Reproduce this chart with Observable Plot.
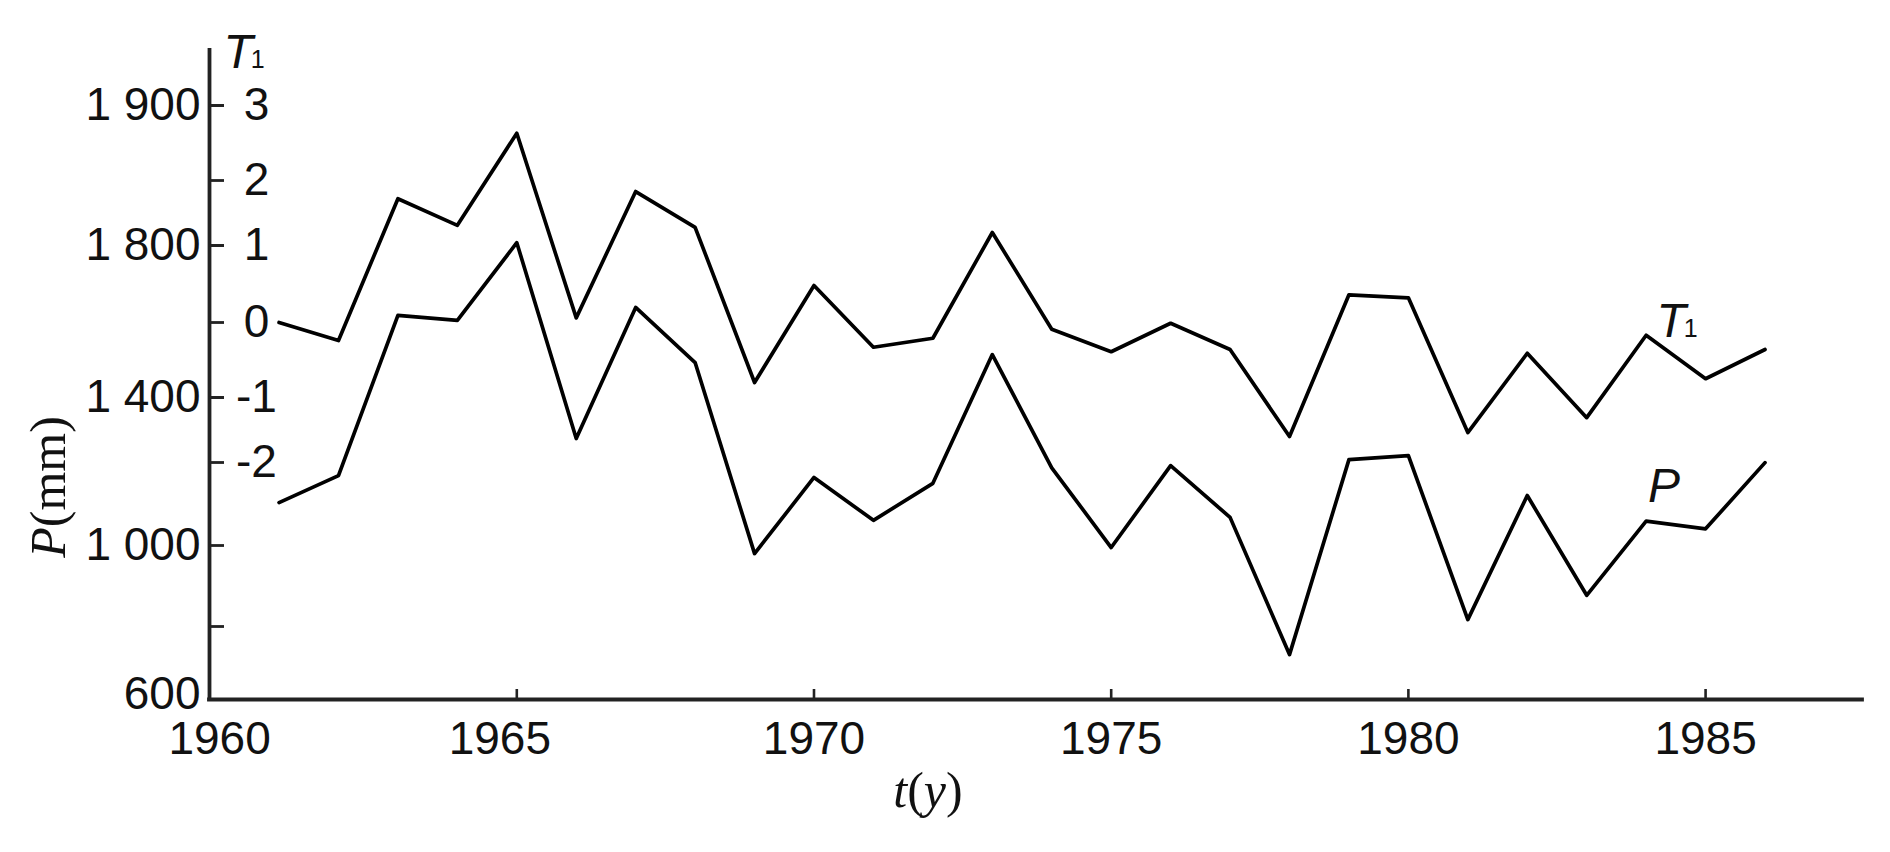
<!DOCTYPE html>
<html>
<head>
<meta charset="utf-8">
<script src="https://cdn.jsdelivr.net/npm/d3@7"></script>
<script src="https://cdn.jsdelivr.net/npm/@observablehq/plot@0.6"></script>
<style>
  html, body { margin: 0; padding: 0; background: #fff; }
  #chart { position: relative; width: 1890px; height: 852px; overflow: hidden; }
  #chart svg { position: absolute; left: 0; top: 0; }
</style>
</head>
<body>
<div id="chart"></div>
<script>
// ---- data ----
const years = [1961, 1962, 1963, 1964, 1965, 1966, 1967, 1968, 1969, 1970, 1971, 1972, 1973,
               1974, 1975, 1976, 1977, 1978, 1979, 1980, 1981, 1982, 1983, 1984, 1985, 1986];
const precipitationMm = [1116, 1189, 1616, 1603, 1802, 1289, 1637, 1492, 980, 1184, 1068, 1168, 1513,
                         1210, 995, 1216, 1076, 723, 1232, 1243, 817, 1135, 877, 1066, 1045, 1224];
const t1Values = [0.0, -0.24, 1.72, 1.31, 2.63, 0.06, 1.83, 1.28, -0.8, 0.48, -0.33, -0.21, 1.2,
                  -0.09, -0.39, -0.01, -0.36, -1.6, 0.36, 0.32, -1.54, -0.41, -1.31, -0.17, -0.75, -0.36];

const xTickYears = [1960, 1965, 1970, 1975, 1980, 1985];
const xTickLabels = ["1960", "1965", "1970", "1975", "1980", "1985"];
const pTickValues = [800, 1000, 1400, 1800, 1900];
const pLabelValues = [600, 1000, 1400, 1800, 1900];
const pLabelTexts = ["600", "1 000", "1 400", "1 800", "1 900"];
const t1TickValues = [3, 2, 1, 0, -1, -2];
const t1TickTexts = ["3", "2", "1", "0", "-1", "-2"];

// ---- layout / scales ----
const W = 1890, H = 852;
const M = {marginLeft: 209, marginRight: 28, marginTop: 50, marginBottom: 153};
const frameW = W - M.marginLeft - M.marginRight;
const frameH = H - M.marginTop - M.marginBottom;
const xDomain = [1959.83, 1987.64];
// the original figure's axes are unevenly spaced: piecewise scales reproduce them
const pScale = {type: "linear", domain: [600, 800, 1000, 1400, 1800, 1900], range: [699, 626, 545, 397, 245, 105]};
const tScale = {type: "linear", domain: [-2, -1, 0, 1, 2, 3], range: [462, 397, 322, 245, 180, 105]};

const pData = years.map((year, i) => ({year, value: precipitationMm[i]}));
const tData = years.map((year, i) => ({year, value: t1Values[i]}));
const xLabels = xTickYears.map((year, i) => ({year, label: xTickLabels[i], shift: year === 1965}));
const pLabels = pLabelValues.map((v, i) => ({v, label: pLabelTexts[i], low: i === 0}));
const tLabels = t1TickValues.map((v, i) => ({v, label: t1TickTexts[i]}));

const font = "'Liberation Sans', Arial, Helvetica, sans-serif";
const ink = "#111";
const lineW = 3.7;

const plotP = Plot.plot({
  width: W, height: H, ...M,
  x: {domain: xDomain, axis: null},
  y: {...pScale, axis: null},
  style: {background: "#fff", fontFamily: font, color: ink, overflow: "visible"},
  marks: [
    // axis lines
    Plot.ruleX([xDomain[0]], {stroke: "#222", strokeWidth: 3.8, strokeLinecap: "square"}),
    Plot.ruleY([pScale.domain[0]], {stroke: "#222", strokeWidth: 3.8, strokeLinecap: "square"}),
    // inward tick marks
    Plot.ruleY(pTickValues, {y: d => d, insetRight: frameW - 15, stroke: "#222", strokeWidth: 2.8}),
    Plot.ruleX(xTickYears.filter(d => d > 1960), {x: d => d, insetTop: frameH - 10, stroke: "#222", strokeWidth: 2.6}),
    // tick labels
    Plot.text(pLabels.filter(d => !d.low), {y: "v", text: "label", frameAnchor: "left", dx: -9, textAnchor: "end", fontSize: 46, fill: ink}),
    Plot.text(pLabels.filter(d => d.low), {y: "v", text: "label", frameAnchor: "left", dx: -9, dy: -5, textAnchor: "end", fontSize: 46, fill: ink}),
    Plot.text(xLabels.filter(d => !d.shift), {x: "year", text: "label", frameAnchor: "bottom", dy: 22, lineAnchor: "top", fontSize: 46, fill: ink}),
    Plot.text(xLabels.filter(d => d.shift), {x: "year", text: "label", frameAnchor: "bottom", dy: 22, dx: -17, lineAnchor: "top", fontSize: 46, fill: ink}),
    // P series
    Plot.line(pData, {x: "year", y: "value", stroke: "#000", strokeWidth: lineW, strokeLinejoin: "round"})
  ]
});

const plotT = Plot.plot({
  width: W, height: H, ...M,
  x: {domain: xDomain, axis: null},
  y: {...tScale, axis: null},
  style: {background: "none", fontFamily: font, color: ink, overflow: "visible"},
  marks: [
    Plot.ruleY(t1TickValues, {y: d => d, insetRight: frameW - 15, stroke: "#222", strokeWidth: 2.8}),
    Plot.text(tLabels, {y: "v", text: "label", frameAnchor: "left", dx: 47, textAnchor: "middle", fontSize: 46, fill: ink}),
    Plot.line(tData, {x: "year", y: "value", stroke: "#000", strokeWidth: lineW, strokeLinejoin: "round"})
  ]
});

const chart = document.getElementById("chart");
chart.appendChild(plotP);
chart.appendChild(plotT);

// ---- titles and series labels (mixed italic / subscript text) ----
const svg = d3.select(plotT);
function tSub(x, y) {
  const t = svg.append("text").attr("x", x).attr("y", y)
    .attr("font-family", font).attr("font-size", 48).attr("fill", ink);
  t.append("tspan").attr("font-style", "italic").text("T");
  t.append("tspan").attr("font-size", 25).attr("dx", -2).text("1");
}
tSub(244, 68);      // axis title above T1 ticks
tSub(1677, 337);    // series label T1
svg.append("text").attr("x", 1664).attr("y", 502)
  .attr("font-family", font).attr("font-size", 48).attr("font-style", "italic").attr("fill", ink).text("P");

const serif = "'Liberation Serif', 'Times New Roman', Times, serif";
const yTitle = svg.append("text").attr("transform", "translate(65,487) rotate(-90)")
  .attr("font-family", serif).attr("font-size", 50).attr("fill", ink);
yTitle.append("tspan").attr("font-style", "italic").text("P");
yTitle.append("tspan").text("(mm)");

const xTitle = svg.append("text").attr("x", 928).attr("y", 807)
  .attr("font-family", serif).attr("font-size", 50).attr("fill", ink);
xTitle.append("tspan").attr("font-style", "italic").text("t");
xTitle.append("tspan").text("(");
xTitle.append("tspan").attr("font-style", "italic").text("y");
xTitle.append("tspan").text(")");
</script>
</body>
</html>
